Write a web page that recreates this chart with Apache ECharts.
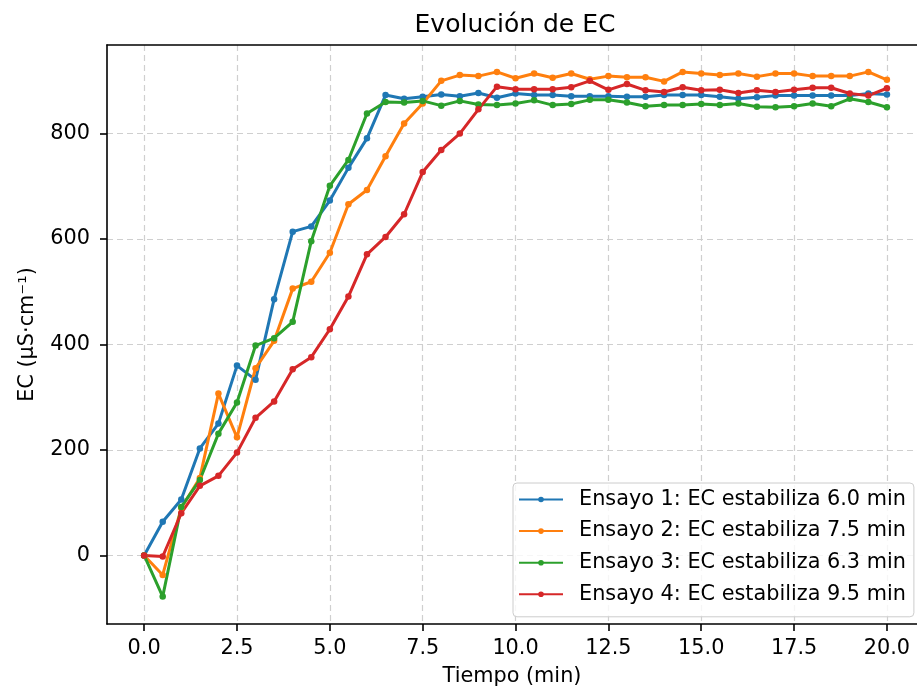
<!DOCTYPE html>
<html>
<head>
<meta charset="utf-8">
<script src="https://cdn.jsdelivr.net/npm/echarts@6/dist/echarts.min.js"></script>
<style>
  html, body { margin: 0; padding: 0; background: #fff; }
  #chart { width: 917px; height: 687px; }
</style>
</head>
<body>
<div id="chart"></div>
<script>
// tiempo (min), cada 0.5 min
const tiempo = [0, 0.5, 1, 1.5, 2, 2.5, 3, 3.5, 4, 4.5, 5, 5.5, 6, 6.5, 7, 7.5, 8, 8.5, 9, 9.5,
  10, 10.5, 11, 11.5, 12, 12.5, 13, 13.5, 14, 14.5, 15, 15.5, 16, 16.5, 17, 17.5, 18, 18.5, 19, 19.5, 20]

// EC (µS·cm-1)
const ensayo1 = [0, 64, 106, 203, 250, 360, 333, 486, 614, 624, 673, 735, 791, 873, 866, 870, 874, 871, 877, 868,
  876, 873, 873, 871, 871, 871, 870, 870, 873, 873, 873, 870, 866, 869, 872, 872, 872, 872, 872, 876, 874]
const ensayo2 = [0, -37, 90, 147, 307, 224, 355, 407, 506, 519, 574, 666, 693, 757, 819, 857, 900, 911, 909, 917,
  905, 914, 906, 914, 903, 909, 907, 907, 899, 917, 914, 911, 914, 908, 914, 914, 909, 909, 909, 917, 902]
const ensayo3 = [0, -78, 92, 143, 231, 290, 398, 412, 443, 596, 701, 750, 838, 860, 859, 862, 853, 862, 855, 854,
  857, 863, 854, 856, 864, 864, 859, 852, 854, 854, 856, 854, 857, 851, 850, 852, 857, 852, 866, 860, 850]
const ensayo4 = [0, -2, 80, 132, 151, 195, 261, 292, 353, 376, 429, 491, 571, 604, 647, 727, 769, 800, 846, 889,
  884, 884, 884, 888, 900, 883, 894, 882, 879, 888, 882, 883, 877, 882, 879, 883, 887, 887, 876, 872, 886]

const nombres = [
  'Ensayo 1: EC estabiliza 6.0 min',
  'Ensayo 2: EC estabiliza 7.5 min',
  'Ensayo 3: EC estabiliza 6.3 min',
  'Ensayo 4: EC estabiliza 9.5 min'
]
const colores = ['#1f77b4', '#ff7f0e', '#2ca02c', '#d62728']

const xTicks = [0, 2.5, 5, 7.5, 10, 12.5, 15, 17.5, 20]
const yTicks = [0, 200, 400, 600, 800]

const fuente = 'DejaVu Sans'
const chart = echarts.init(document.getElementById('chart'))

const makeSerie = (nombre, valores, color) => ({
  name: nombre,
  type: 'line',
  data: tiempo.map((t, i) => [t, valores[i]]),
  symbol: 'circle',
  symbolSize: 6.5,
  showSymbol: true,
  lineStyle: { color: color, width: 3 },
  itemStyle: { color: color },
  emphasis: { disabled: true },
  animation: false
})

const ejeLinea = { show: true, onZero: false, lineStyle: { color: '#000', width: 1.6 } }
const rejilla = { show: true, lineStyle: { color: '#cfcfcf', width: 1.2, type: [6, 4] } }

const option = {
  animation: false,
  textStyle: { fontFamily: fuente },
  title: {
    text: 'Evolución de EC',
    left: 515,
    textAlign: 'center',
    top: 13,
    padding: 0,
    textStyle: { fontFamily: fuente, fontSize: 25, fontWeight: 'normal', color: '#000' }
  },
  grid: {
    left: 107,
    right: 0,
    top: 45,
    bottom: 63,
    show: false,
    outerBoundsMode: 'none'
  },
  legend: {
    orient: 'vertical',
    left: 513,
    top: 483,
    padding: [6, 8, 12, 5],
    itemWidth: 44,
    itemHeight: 7,
    itemGap: 10.6,
    backgroundColor: 'rgba(255,255,255,0.8)',
    borderColor: '#cccccc',
    borderWidth: 1,
    borderRadius: 4,
    textStyle: { fontFamily: fuente, fontSize: 20.8, lineHeight: 20.8, color: '#000', padding: [0, 0, 0, 11] },
    data: nombres
  },
  xAxis: [{
    type: 'value',
    min: -1,
    max: 20.81,
    name: 'Tiempo (min)',
    nameLocation: 'middle',
    nameGap: 42,
    nameTextStyle: { fontFamily: fuente, fontSize: 20.8, color: '#000' },
    axisLine: ejeLinea,
    axisTick: { show: true, length: 7, lineStyle: { color: '#000', width: 1.6 }, customValues: xTicks },
    axisLabel: {
      fontFamily: fuente, fontSize: 20.8, color: '#000', margin: 14,
      customValues: xTicks,
      formatter: v => v.toFixed(1)
    },
    splitLine: rejilla
  }, {
    // borde superior
    type: 'value',
    position: 'top',
    min: -1,
    max: 20.81,
    axisLine: ejeLinea,
    axisTick: { show: false },
    axisLabel: { show: false },
    splitLine: { show: false }
  }],
  yAxis: {
    type: 'value',
    min: -130,
    max: 968,
    name: 'EC (µS·cm⁻¹)',
    nameLocation: 'middle',
    nameGap: 69,
    nameTextStyle: { fontFamily: fuente, fontSize: 20.8, color: '#000' },
    axisLine: ejeLinea,
    axisTick: { show: true, length: 7, lineStyle: { color: '#000', width: 1.6 }, customValues: yTicks },
    axisLabel: {
      fontFamily: fuente, fontSize: 20.8, color: '#000', margin: 17,
      customValues: yTicks
    },
    splitLine: rejilla
  },
  series: [
    makeSerie(nombres[0], ensayo1, colores[0]),
    makeSerie(nombres[1], ensayo2, colores[1]),
    makeSerie(nombres[2], ensayo3, colores[2]),
    makeSerie(nombres[3], ensayo4, colores[3])
  ]
}

chart.setOption(option)
</script>
</body>
</html>
